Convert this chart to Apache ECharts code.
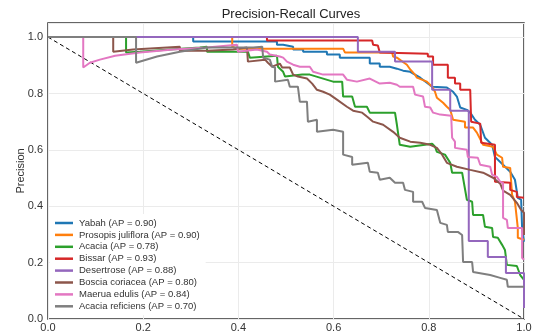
<!DOCTYPE html>
<html>
<head>
<meta charset="utf-8">
<script src="https://cdn.jsdelivr.net/npm/echarts@6/dist/echarts.min.js"></script>
<style>html,body{margin:0;padding:0;background:#fff;}#c{width:541px;height:333px;}</style>
</head>
<body>
<div id="c"></div>
<script>
// [recall, precision] vertices
const yabah = [[0,1.0],[0.305,1.0],[0.305,0.984],[0.481,0.984],[0.481,0.973],[0.494,0.973],[0.494,0.966],[0.515,0.966],[0.515,0.956],[0.536,0.956],[0.536,0.948],[0.586,0.948],[0.586,0.938],[0.613,0.938],[0.613,0.927],[0.676,0.927],[0.676,0.906],[0.697,0.906],[0.697,0.895],[0.718,0.895],[0.733,0.888],[0.746,0.881],[0.761,0.877],[0.771,0.867],[0.782,0.856],[0.796,0.838],[0.807,0.824],[0.838,0.821],[0.851,0.806],[0.859,0.789],[0.866,0.750],[0.880,0.742],[0.887,0.732],[0.897,0.707],[0.908,0.689],[0.918,0.643],[0.933,0.618],[0.939,0.575],[0.956,0.547],[0.971,0.522],[0.981,0.494],[0.987,0.430],[0.994,0.423],[0.996,0.323],[1.0,0.323],[1.0,0.274]];
const prosopis = [[0,1.0],[0.387,1.0],[0.387,0.966],[0.399,0.959],[0.620,0.959],[0.624,0.945],[0.723,0.945],[0.725,0.931],[0.733,0.927],[0.754,0.902],[0.761,0.885],[0.771,0.867],[0.775,0.856],[0.796,0.842],[0.807,0.824],[0.813,0.806],[0.817,0.785],[0.830,0.767],[0.838,0.753],[0.845,0.742],[0.851,0.707],[0.876,0.700],[0.876,0.679],[0.893,0.679],[0.901,0.661],[0.914,0.618],[0.935,0.611],[0.943,0.583],[0.954,0.572],[0.956,0.540],[0.971,0.536],[0.975,0.440],[0.981,0.416],[0.987,0.323],[0.987,0.288],[1.0,0.281]];
const acacia = [[0,1.0],[0.164,1.0],[0.164,0.945],[0.193,0.948],[0.256,0.956],[0.319,0.963],[0.334,0.966],[0.334,0.948],[0.420,0.948],[0.424,0.927],[0.481,0.934],[0.483,0.895],[0.494,0.877],[0.498,0.860],[0.534,0.867],[0.550,0.867],[0.599,0.842],[0.618,0.842],[0.620,0.789],[0.639,0.789],[0.645,0.753],[0.670,0.753],[0.676,0.732],[0.729,0.732],[0.733,0.689],[0.739,0.618],[0.761,0.611],[0.792,0.618],[0.807,0.622],[0.813,0.611],[0.817,0.593],[0.834,0.583],[0.845,0.554],[0.849,0.547],[0.849,0.519],[0.870,0.519],[0.880,0.423],[0.891,0.416],[0.893,0.369],[0.914,0.369],[0.918,0.327],[0.933,0.323],[0.935,0.291],[0.945,0.288],[0.954,0.263],[0.960,0.245],[0.964,0.192],[0.985,0.188],[0.992,0.156],[1.0,0.139]];
const bissar = [[0,1.0],[0.460,1.0],[0.460,0.988],[0.681,0.988],[0.683,0.973],[0.693,0.970],[0.697,0.945],[0.798,0.941],[0.798,0.931],[0.809,0.931],[0.809,0.902],[0.840,0.902],[0.840,0.856],[0.855,0.856],[0.855,0.835],[0.866,0.835],[0.866,0.813],[0.887,0.813],[0.889,0.700],[0.908,0.693],[0.910,0.625],[0.939,0.618],[0.939,0.487],[0.971,0.483],[0.971,0.458],[0.985,0.451],[0.985,0.433],[1.0,0.430]];
const desertrose = [[0,1.0],[0.651,1.0],[0.651,0.948],[0.729,0.948],[0.729,0.913],[0.807,0.913],[0.807,0.813],[0.845,0.813],[0.845,0.739],[0.884,0.739],[0.884,0.277],[0.924,0.277],[0.924,0.220],[0.962,0.220],[0.962,0.163],[1.0,0.163],[1.0,0.039]];
const boscia = [[0,1.0],[0.137,1.0],[0.137,0.948],[0.179,0.956],[0.277,0.966],[0.277,0.952],[0.334,0.952],[0.334,0.945],[0.389,0.956],[0.418,0.963],[0.420,0.913],[0.456,0.920],[0.462,0.909],[0.471,0.895],[0.487,0.906],[0.492,0.892],[0.508,0.892],[0.515,0.867],[0.525,0.860],[0.544,0.853],[0.555,0.835],[0.565,0.813],[0.578,0.806],[0.592,0.796],[0.607,0.778],[0.628,0.753],[0.641,0.739],[0.660,0.732],[0.670,0.718],[0.683,0.700],[0.704,0.689],[0.725,0.664],[0.739,0.643],[0.761,0.629],[0.782,0.625],[0.803,0.618],[0.817,0.607],[0.828,0.583],[0.838,0.554],[0.859,0.540],[0.887,0.529],[0.914,0.519],[0.935,0.501],[0.950,0.480],[0.956,0.455],[0.971,0.440],[0.985,0.412],[0.994,0.387],[1.0,0.377],[1.0,0.298]];
const maerua = [[0,1.0],[0.074,1.0],[0.074,0.892],[0.088,0.909],[0.109,0.920],[0.141,0.934],[0.193,0.945],[0.263,0.956],[0.334,0.963],[0.397,0.973],[0.399,0.948],[0.439,0.956],[0.460,0.948],[0.466,0.938],[0.487,0.931],[0.494,0.927],[0.502,0.913],[0.515,0.902],[0.529,0.895],[0.550,0.895],[0.557,0.877],[0.578,0.867],[0.620,0.867],[0.628,0.849],[0.649,0.842],[0.676,0.853],[0.697,0.835],[0.718,0.838],[0.733,0.831],[0.739,0.824],[0.767,0.824],[0.771,0.796],[0.788,0.789],[0.792,0.753],[0.803,0.750],[0.809,0.732],[0.824,0.725],[0.847,0.721],[0.849,0.643],[0.855,0.629],[0.855,0.607],[0.880,0.600],[0.882,0.575],[0.903,0.572],[0.908,0.547],[0.929,0.540],[0.933,0.512],[0.943,0.504],[0.950,0.487],[0.956,0.483],[0.956,0.359],[0.964,0.352],[0.966,0.323],[0.996,0.323],[0.996,0.217],[1.0,0.210]];
const reficiens = [[0,1.0],[0.185,1.0],[0.185,0.909],[0.229,0.931],[0.277,0.948],[0.334,0.963],[0.361,0.963],[0.431,0.963],[0.450,0.966],[0.452,0.927],[0.466,0.920],[0.471,0.895],[0.477,0.892],[0.477,0.842],[0.504,0.849],[0.508,0.824],[0.525,0.824],[0.529,0.771],[0.544,0.771],[0.546,0.700],[0.565,0.707],[0.565,0.664],[0.599,0.671],[0.620,0.664],[0.620,0.583],[0.639,0.575],[0.639,0.547],[0.672,0.554],[0.676,0.522],[0.693,0.519],[0.697,0.494],[0.718,0.501],[0.729,0.483],[0.746,0.483],[0.750,0.458],[0.767,0.451],[0.767,0.416],[0.786,0.416],[0.792,0.394],[0.817,0.387],[0.824,0.341],[0.838,0.334],[0.840,0.309],[0.861,0.309],[0.870,0.298],[0.872,0.202],[0.891,0.202],[0.893,0.167],[0.929,0.156],[0.950,0.146],[0.964,0.139],[0.966,0.114],[1.0,0.114]];
const chanceLine = [[0,1],[1,0]];

const seriesNames = ['Yabah (AP = 0.90)','Prosopis juliflora (AP = 0.90)','Acacia (AP = 0.78)','Bissar (AP = 0.93)','Desertrose (AP = 0.88)','Boscia coriacea (AP = 0.80)','Maerua edulis (AP = 0.84)','Acacia reficiens (AP = 0.70)'];
const seriesData = [yabah, prosopis, acacia, bissar, desertrose, boscia, maerua, reficiens];
const colors = ['#1f77b4','#ff7f0e','#2ca02c','#d62728','#9467bd','#8c564b','#e377c2','#7f7f7f'];
const tickValues = [0,0.2,0.4,0.6,0.8,1.0];

const FONT = '"Liberation Sans", Arial, sans-serif';
const chart = echarts.init(document.getElementById('c'), null, {renderer:'canvas'});

const series = seriesData.map((d,i)=>({
  name: seriesNames[i], type:'line', data:d, showSymbol:false, symbol:'none',
  lineStyle:{width:2, color:colors[i]}, itemStyle:{color:colors[i]}, z: 3+i, animation:false
}));
series.unshift({
  name:'chance', type:'line', data:chanceLine, showSymbol:false, symbol:'none',
  lineStyle:{width:1, color:'#000', type:[4,3]}, z:2, animation:false, legendHoverLink:false
});

const fmt = v => (tickValues.some(t=>Math.abs(t-v)<1e-9) ? v.toFixed(1) : '');

chart.setOption({
  animation:false,
  backgroundColor:'#fff',
  title:{text:'Precision-Recall Curves', left:286, textAlign:'center', top:3,
    textStyle:{fontFamily:FONT, fontSize:13, fontWeight:'normal', color:'#222'}},
  grid:{left:48, right:17, top:23, bottom:14, show:true, borderColor:'#333', borderWidth:1.5, backgroundColor:'#fff'},
  legend:{
    data:seriesNames, orient:'vertical', left:50, top:214,
    icon:'rect', itemWidth:18, itemHeight:2.5, itemGap:1.9,
    backgroundColor:'#fff', padding:[4,6,4,5],
    textStyle:{fontFamily:FONT, fontSize:9.5, color:'#333', padding:[0,0,0,1]},
    selectedMode:false
  },
  xAxis:{type:'value', min:0, max:1, interval:0.2,
    axisLine:{show:false}, axisTick:{show:false},
    axisLabel:{formatter:fmt, fontFamily:FONT, fontSize:11, color:'#333', margin:3},
    splitLine:{show:true, lineStyle:{color:'#ebebeb', width:1}}},
  yAxis:{type:'value', min:0, max:1.05, interval:0.2,
    name:'Precision', nameLocation:'middle', nameGap:22, nameRotate:90, nameMoveOverlap:false,
    nameTextStyle:{fontFamily:FONT, fontSize:11, color:'#333'},
    axisLine:{show:false}, axisTick:{show:false},
    axisLabel:{formatter:fmt, fontFamily:FONT, fontSize:11, color:'#333', margin:5, showMaxLabel:false},
    splitLine:{show:true, lineStyle:{color:'#ebebeb', width:1}}},
  series: series
});
</script>
</body>
</html>
